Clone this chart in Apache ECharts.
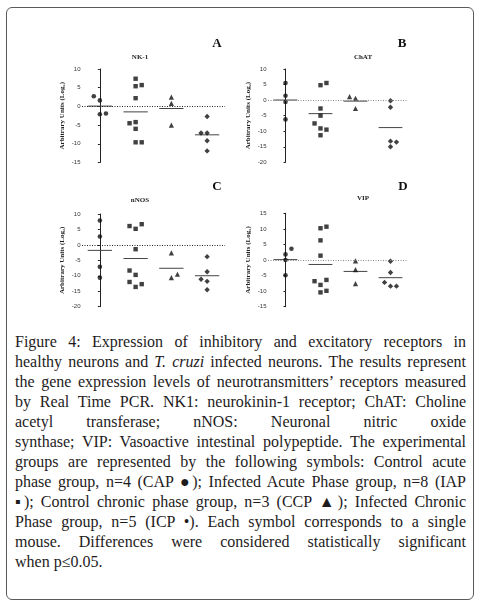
<!DOCTYPE html>
<html>
<head>
<meta charset="utf-8">
<script src="https://cdn.jsdelivr.net/npm/echarts@6/dist/echarts.min.js"></script>
<style>
html, body { margin: 0; padding: 0; background: #fff; }
#frame { position: absolute; left: 6px; top: 7px; width: 468px; height: 593px; box-sizing: border-box;
  border: 1.5px solid #5a5a5a; border-radius: 6px; }
#chart { position: absolute; left: 0; top: 0; width: 480px; height: 330px; }
#caption { position: absolute; left: 15px; top: 332px; width: 451px; font-family: "Liberation Serif", serif;
  font-size: 16px; line-height: 20px; color: #1e1b1c; }
#caption div { text-align: justify; text-align-last: justify; }
#caption div.last { text-align: left; text-align-last: left; }
</style>
</head>
<body>
<div id="frame"></div>
<div id="chart"></div>
<div id="caption">
  <div>Figure 4: Expression of inhibitory and excitatory receptors in</div>
  <div>healthy neurons and <i>T. cruzi</i> infected neurons. The results represent</div>
  <div>the gene expression levels of neurotransmitters’ receptors measured</div>
  <div>by Real Time PCR. NK1: neurokinin-1 receptor; ChAT: Choline</div>
  <div>acetyl transferase; nNOS: Neuronal nitric oxide</div>
  <div>synthase; VIP: Vasoactive intestinal polypeptide. The experimental</div>
  <div>groups are represented by the following symbols: Control acute</div>
  <div>phase group, n=4 (CAP ●); Infected Acute Phase group, n=8 (IAP</div>
  <div>▪); Control chronic phase group, n=3 (CCP ▲); Infected Chronic</div>
  <div>Phase group, n=5 (ICP •). Each symbol corresponds to a single</div>
  <div>mouse. Differences were considered statistically significant</div>
  <div class="last">when p≤0.05.</div>
</div>
<script>
// groups: CAP, IAP, CCP, ICP
var groups = ['CAP', 'IAP', 'CCP', 'ICP'];
var symbols = ['circle', 'rect', 'triangle', 'diamond'];
var titles = ['NK-1', 'ChAT', 'nNOS', 'VIP'];
var letters = ['A', 'B', 'C', 'D'];
var yMin = [-15, -20, -20, -15];
var yMax = [10, 10, 10, 15];

// values (Log2 arbitrary units)
var nk1 = [
    [2.7, 1.6, -2.1, -1.9],
    [7.4, 5.4, 5.7, 2.2, -4.5, -4.2, -6.0, -9.6, -9.6],
    [2.5, 0.8, -5.0],
    [-2.7, -7.1, -7.1, -9.2, -11.9]
];
var chat = [
    [5.5, 1.4, -0.6, -6.2],
    [4.8, 5.5, -2.7, -5.0, -7.5, -9.1, -9.5, -11.3],
    [1.1, 0.6, -2.7],
    [-0.2, -2.3, -13.2, -13.5, -15.0]
];
var nnos = [
    [7.9, 2.7, -7.1, -10.6],
    [6.1, 5.2, 6.7, -1.4, -8.3, -9.7, -12.0, -13.6, -12.7],
    [-2.6, -10.6, -9.5],
    [-3.8, -8.7, -11.1, -11.8, -14.5]
];
var vip = [
    [1.8, 3.6, 0.0, -4.9],
    [10.2, 10.7, 6.3, 1.4, -6.8, -6.4, -8.0, -10.4, -9.9],
    [-0.3, -3.1, -7.6],
    [-0.4, -4.0, -7.2, -8.4, -8.4]
];
// which side of the column each dot sits on (-1 left, 0 middle, 1 right)
var nk1Side = [[-1, 0, 0, 1], [0, 0, 1, 0, -1, 0, 0, 0, 1], [0, 0, 0], [0, -1, 0, 0, 0]];
var chatSide = [[0, 0, 0, 0], [0, 1, 0, 0, -1, 0, 1, 0], [-1, 0, 0], [0, 0, 0, 1, 0]];
var nnosSide = [[0, 0, 0, 0], [-1, 0, 1, 0, -1, 0, -1, 0, 1], [0, 0, 1], [0, 0, -1, 0, 0]];
var vipSide = [[0, 1, 0, 0], [0, 1, 0, 0, -1, 1, 0, 0, 1], [0, 0, 0], [0, 0, -1, 0, 1]];

var panels = [nk1, chat, nnos, vip];
var sides = [nk1Side, chatSide, nnosSide, vipSide];

var grids = [
    {left: 82, top: 69, width: 143, height: 93.5},
    {left: 268, top: 69, width: 140, height: 93.3},
    {left: 82, top: 214, width: 143, height: 92.7},
    {left: 268, top: 213.3, width: 140, height: 93.4}
];
var titlePos = [[140, 57], [363, 57], [140, 200], [363, 198.5]];
var letterPos = [[217, 44], [402, 44], [217, 187], [403, 187]];
var zeroColor = ['#222', '#888', '#222', '#888'];
var symSize = [4.6, 4.4, 5.2, 5.4];

var chartDom = document.getElementById('chart');
var myChart = echarts.init(chartDom);
var option;

var xAxes = [], yAxes = [], series = [], graphics = [];

for (var p = 0; p < 4; p++) {
    xAxes.push({gridIndex: p, type: 'value', min: -0.5, max: 3.5, show: false});
    yAxes.push({
        gridIndex: p, type: 'value', min: yMin[p], max: yMax[p], interval: 5,
        axisLine: {show: true, lineStyle: {color: '#222', width: 1}},
        axisTick: {show: true, length: 2, lineStyle: {color: '#222', width: 1}},
        axisLabel: {fontSize: 6, color: '#333', margin: 1.5, fontFamily: 'Liberation Sans'},
        splitLine: {show: false},
        name: 'Arbitrary Units (Log₂)', nameLocation: 'middle', nameGap: 16,
        nameTextStyle: {fontSize: 7, fontWeight: 'bold', fontFamily: 'Liberation Serif', color: '#222'}
    });

    // dotted zero line
    series.push({
        type: 'scatter', xAxisIndex: p, yAxisIndex: p, data: [], z: 1,
        markLine: {
            silent: true, symbol: ['none', 'none'], label: {show: false},
            lineStyle: {color: zeroColor[p], width: 1, type: [1, 1.5]},
            data: [{yAxis: 0}]
        }
    });

    var means = [];
    for (var g = 0; g < 4; g++) {
        var vals = panels[p][g];
        var pts = [], sum = 0;
        for (var i = 0; i < vals.length; i++) {
            pts.push([g + sides[p][g][i] * 0.17, vals[i]]);
            sum += vals[i];
        }
        means.push([g, sum / vals.length]);
        series.push({
            type: 'scatter', name: groups[g], xAxisIndex: p, yAxisIndex: p, z: 3,
            symbol: symbols[g], symbolSize: symSize[g],
            itemStyle: {color: '#111'},
            data: pts
        });
    }

    // group mean bars
    series.push({
        type: 'custom', xAxisIndex: p, yAxisIndex: p, z: 2, silent: true,
        renderItem: function (params, api) {
            var a = api.coord([api.value(0) - 0.34, api.value(1)]);
            var b = api.coord([api.value(0) + 0.34, api.value(1)]);
            return {
                type: 'line',
                shape: {x1: a[0], y1: a[1], x2: b[0], y2: b[1]},
                style: {stroke: '#444', lineWidth: 1}
            };
        },
        data: means
    });

    graphics.push({
        type: 'text', x: titlePos[p][0], y: titlePos[p][1],
        style: {text: titles[p], font: 'bold 7px "Liberation Serif"', fill: '#222', align: 'center', verticalAlign: 'middle'}
    });
    graphics.push({
        type: 'text', x: letterPos[p][0], y: letterPos[p][1],
        style: {text: letters[p], font: 'bold 13px "Liberation Serif"', fill: '#111', align: 'center', verticalAlign: 'middle'}
    });
}

option = {
    animation: false,
    grid: grids,
    xAxis: xAxes,
    yAxis: yAxes,
    series: series,
    graphic: graphics
};
option && myChart.setOption(option);
</script>
</body>
</html>
